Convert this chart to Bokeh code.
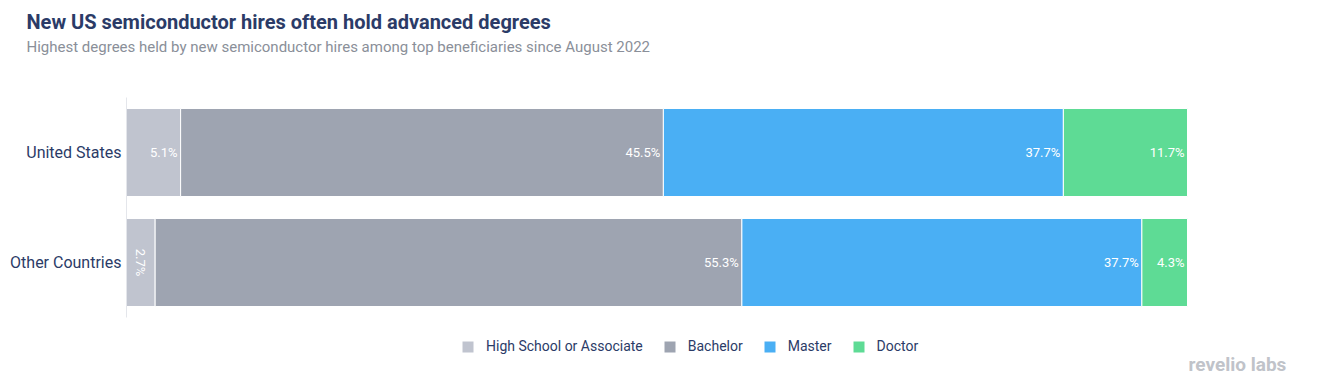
import numpy as np
from bokeh.plotting import figure
from bokeh.models import ColumnDataSource, Title, Legend, LegendItem, Range1d, FixedTicker, Label
from bokeh.core.properties import value
from bokeh.embed import file_html
from bokeh.resources import INLINE

# ---- data ----
regions = ["Other Countries", "United States"]
degrees = ["High School or Associate", "Bachelor", "Master", "Doctor"]
high_school = [2.7, 5.1]
bachelor = [55.3, 45.5]
master = [37.7, 37.7]
doctor = [4.3, 11.7]
colors = ["#c0c4cf", "#9ea4b1", "#4aaff4", "#5edb95"]

FONT = "Roboto"
NAVY = "#2b3b67"

keys = ["hs", "ba", "ma", "dr"]
series = [high_school, bachelor, master, doctor]
ypos = list(range(len(regions)))
src = ColumnDataSource(dict(y=ypos, region=regions, hs=high_school, ba=bachelor, ma=master, dr=doctor))

# layout geometry (pixels)
W, H = 1314, 381
LEFT, TOP = 126, 56           # frame left / top on the canvas
BAR_RIGHT = 1187              # where 100 % falls
BAND = 110                    # pixels per category
US_CENTER = 152               # canvas y of the top category centre
px_per_pct = (BAR_RIGHT - LEFT) / 100.0
top_val = (len(regions) - 1) + (US_CENTER - TOP) / BAND
bot_val = top_val - (H - TOP) / BAND

p = figure(x_range=Range1d(0, (W - LEFT) / px_per_pct), y_range=Range1d(bot_val, top_val),
           width=W, height=H, output_backend="svg", toolbar_location=None,
           min_border_left=LEFT, min_border_right=0, min_border_top=TOP, min_border_bottom=0)

rs = p.hbar_stack(keys, y="y", height=0.8, fill_color=colors, line_color="white",
                  line_width=1, source=src)

# value labels
rx, ry, rt = [], [], []
cx, cy, ct = [], [], []
for i in ypos:
    cum = 0.0
    for vals in series:
        v = vals[i]
        cum += v
        if v < 4:
            cx.append(cum - v / 2); cy.append(i); ct.append(f"{v:.1f}%")
        else:
            rx.append(cum); ry.append(i); rt.append(f"{v:.1f}%")

p.text(x=rx, y=ry, text=rt, text_align="right", text_baseline="middle", x_offset=-3,
       text_color="white", text_font=value(FONT), text_font_size="13px")
p.text(x=cx, y=cy, text=ct, text_align="center", text_baseline="middle", angle=-np.pi / 2,
       text_color="white", text_font=value(FONT), text_font_size="13px")

p.xaxis.visible = False
p.xgrid.visible = False
p.ygrid.visible = False
p.outline_line_color = None
ax = p.yaxis[0]
ax.ticker = FixedTicker(ticks=ypos)
ax.major_label_overrides = {i: r for i, r in zip(ypos, regions)}
ax.bounds = (-0.5, len(regions) - 0.5)
ax.major_tick_line_color = None
ax.minor_tick_line_color = None
ax.major_tick_out = 0
ax.major_tick_in = 0
ax.minor_tick_out = 0
ax.axis_line_color = "#e4e6eb"
ax.major_label_text_font = FONT
ax.major_label_text_font_size = "16px"
ax.major_label_text_color = NAVY
ax.major_label_standoff = 5

# titles
p.add_layout(Title(text="Highest degrees held by new semiconductor hires among top beneficiaries since August 2022",
                   text_font=FONT, text_font_size="15px", text_font_style="normal",
                   text_color="#8a8f99", offset=-100, standoff=2), "above")
p.add_layout(Title(text="New US semiconductor hires often hold advanced degrees",
                   text_font=FONT, text_font_size="20px", text_font_style="bold",
                   text_color=NAVY, offset=-100, standoff=2), "above")

legend = Legend(items=[LegendItem(label=d, renderers=[r]) for d, r in zip(degrees, rs)],
                orientation="horizontal", location=(334, 27), padding=0, margin=0,
                glyph_width=15, glyph_height=15, label_standoff=11, spacing=19,
                label_text_font=FONT, label_text_font_size="14px", label_text_color=NAVY,
                border_line_color=None, background_fill_alpha=0)
p.add_layout(legend, "center")

p.add_layout(Label(x=100, y=17, x_units="data", y_units="screen", x_offset=1, text="revelio labs",
                   text_font=FONT, text_font_style="bold", text_font_size="19px",
                   text_color="#c0c3c9", text_baseline="middle"))

open("out.html", "w").write(file_html(p, INLINE))
